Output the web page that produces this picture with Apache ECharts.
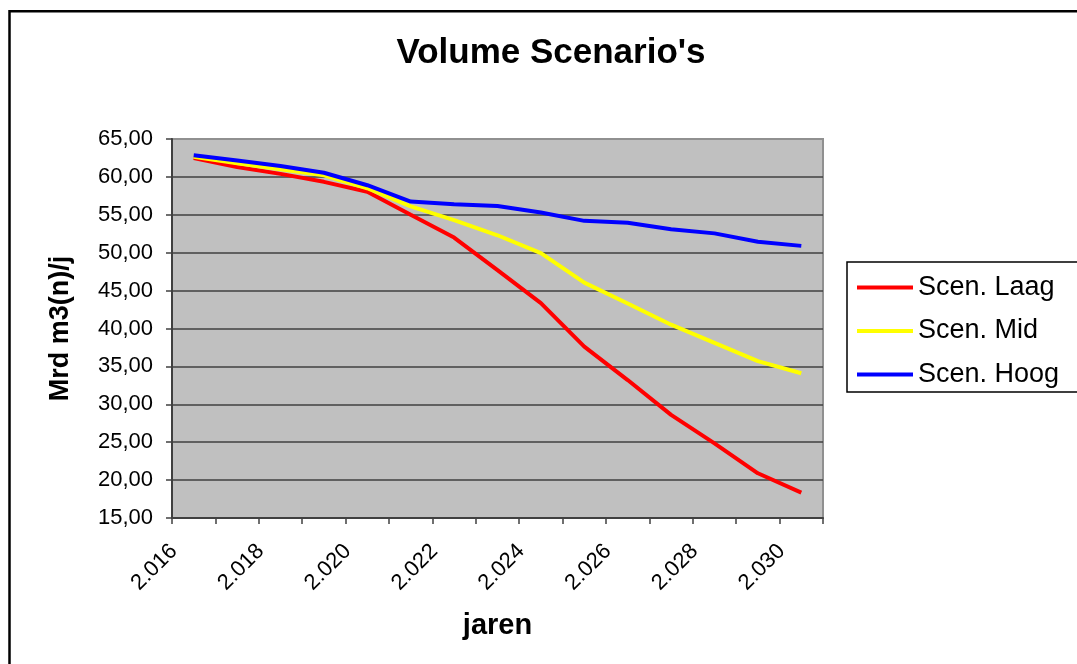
<!DOCTYPE html>
<html>
<head>
<meta charset="utf-8">
<script src="https://cdn.jsdelivr.net/npm/echarts@6/dist/echarts.min.js"></script>
<style>
html,body{margin:0;padding:0;background:#fff;}
#c{width:1077px;height:664px;}
</style>
</head>
<body>
<div id="c"></div>
<script>
const categories = ['2.016','2.017','2.018','2.019','2.020','2.021','2.022','2.023','2.024','2.025','2.026','2.027','2.028','2.029','2.030'];
const scenLaag = [62.5, 61.3, 60.4, 59.35, 58.05, 55.0, 52.0, 47.7, 43.35, 37.6, 33.2, 28.6, 24.85, 20.9, 18.35];
const scenMid  = [62.65, 61.8, 61.0, 60.2, 58.5, 56.1, 54.3, 52.3, 49.95, 46.05, 43.3, 40.5, 38.1, 35.7, 34.1];
const scenHoog = [62.85, 62.15, 61.45, 60.55, 58.9, 56.75, 56.4, 56.15, 55.3, 54.2, 53.95, 53.1, 52.55, 51.45, 50.9];
const seriesNames = ['Scen. Laag', 'Scen. Mid', 'Scen. Hoog'];

const FONT = '"Liberation Sans", Arial, sans-serif';
const chart = echarts.init(document.getElementById('c'), null, {renderer: 'canvas'});
chart.setOption({
  animation: false,
  backgroundColor: '#ffffff',
  title: {
    text: "Volume Scenario's",
    left: 546, top: 31, textAlign: 'center',
    textStyle: {fontFamily: FONT, fontWeight: 'bold', fontSize: 35, color: '#000'}
  },
  graphic: [{
    type: 'rect', z: 100, silent: true,
    shape: {x: 9.5, y: 11.3, width: 1100, height: 700},
    style: {fill: 'none', stroke: '#000', lineWidth: 2.5}
  }],
  legend: {
    orient: 'vertical', left: 847, top: 262,
    data: seriesNames,
    icon: 'rect', itemWidth: 56, itemHeight: 4, itemGap: 16.5,
    padding: [12, 40, 4, 10],
    borderColor: '#000', borderWidth: 1.5,
    textStyle: {fontFamily: FONT, fontSize: 27, color: '#000'}
  },
  grid: {
    left: 172, top: 139, width: 651, height: 379,
    show: true, backgroundColor: '#C0C0C0', borderColor: '#909090', borderWidth: 2,
    containLabel: false
  },
  xAxis: {
    type: 'category', data: categories, boundaryGap: true,
    name: 'jaren', nameLocation: 'middle', nameGap: 93,
    nameTextStyle: {fontFamily: FONT, fontWeight: 'bold', fontSize: 29, color: '#000'},
    axisLine: {show: true, lineStyle: {color: '#404040', width: 2}},
    axisTick: {show: true, interval: 0, length: 6, lineStyle: {color: '#404040', width: 1.5}},
    axisLabel: {interval: 1, rotate: 45, margin: 10, padding: [0, 28, 0, 0],
      fontFamily: FONT, fontSize: 22, color: '#000'},
    splitLine: {show: false}
  },
  yAxis: {
    type: 'value', min: 15, max: 65, interval: 5,
    name: 'Mrd m3(n)/j', nameLocation: 'middle', nameGap: 98, nameRotate: 90,
    nameTextStyle: {fontFamily: FONT, fontWeight: 'bold', fontSize: 27, color: '#000'},
    axisLine: {show: true, lineStyle: {color: '#404040', width: 2}},
    axisTick: {show: true, length: 6, lineStyle: {color: '#404040', width: 1.5}},
    axisLabel: {margin: 19, fontFamily: FONT, fontSize: 22, color: '#000',
      formatter: v => v.toFixed(2).replace('.', ',')},
    splitLine: {show: true, showMaxLine: false, lineStyle: {color: '#404040', width: 1.5}}
  },
  series: [
    {name: seriesNames[0], type: 'line', data: scenLaag, symbol: 'none', smooth: false,
     lineStyle: {color: '#FF0000', width: 4}, itemStyle: {color: '#FF0000'}},
    {name: seriesNames[1], type: 'line', data: scenMid, symbol: 'none', smooth: false,
     lineStyle: {color: '#FFFF00', width: 4}, itemStyle: {color: '#FFFF00'}},
    {name: seriesNames[2], type: 'line', data: scenHoog, symbol: 'none', smooth: false,
     lineStyle: {color: '#0000FF', width: 4}, itemStyle: {color: '#0000FF'}}
  ]
});
</script>
</body>
</html>
